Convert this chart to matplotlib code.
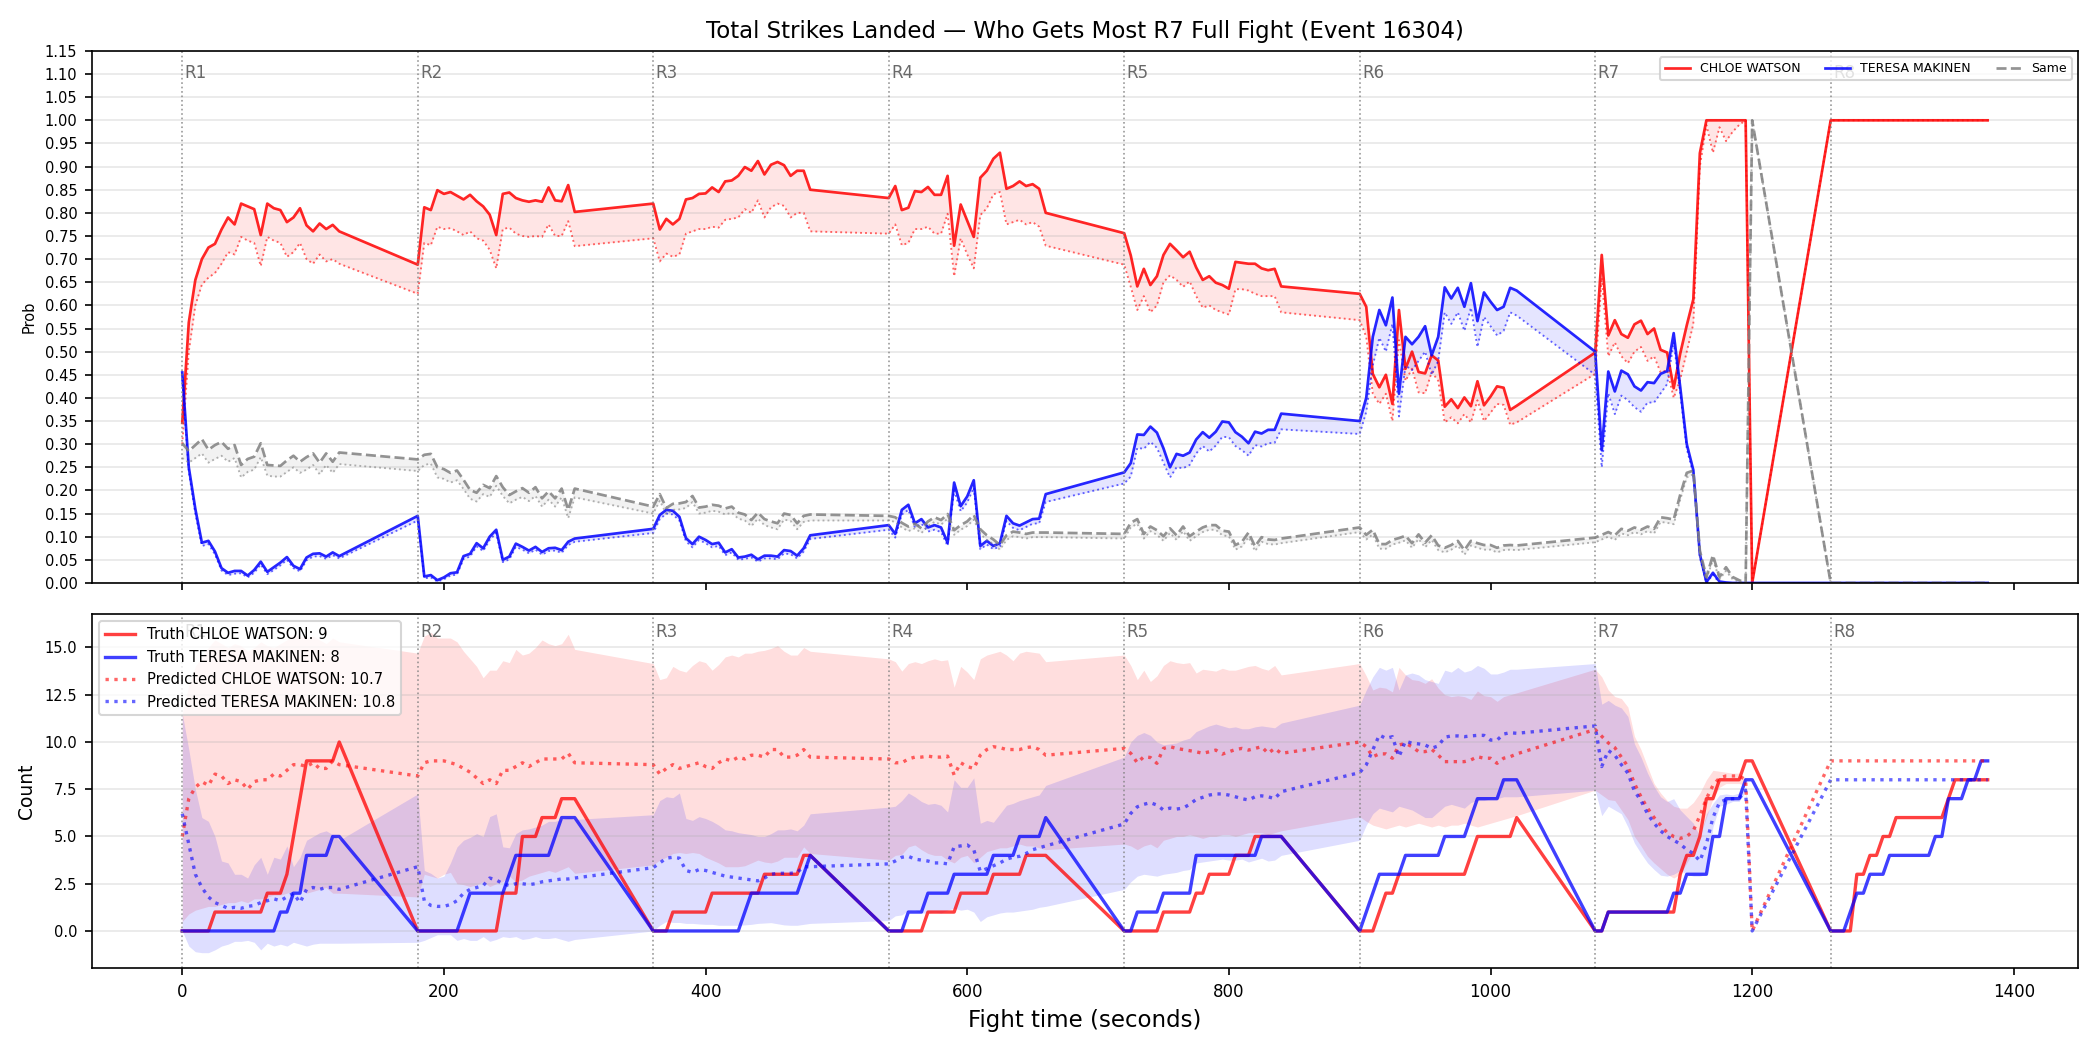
import numpy as np
import matplotlib
matplotlib.use('Agg')
from matplotlib import pyplot as plt
import matplotlib.transforms as mtransforms

# Round starts (seconds) and the sampling offsets inside each round
ROUND_STARTS = [0, 180, 360, 540, 720, 900, 1080, 1260]
ROUND_NAMES = ['R1', 'R2', 'R3', 'R4', 'R5', 'R6', 'R7', 'R8']
SAMPLE_OFFSETS = [0, 5, 10, 15, 20, 25, 30, 35, 40, 45, 50, 55, 60,
                  65, 70, 75, 80, 85, 90, 95, 100, 105, 110, 115, 120]

NAME_A = 'CHLOE WATSON'
NAME_B = 'TERESA MAKINEN'
TRUTH_A = 9
TRUTH_B = 8
PRED_A = 10.7
PRED_B = 10.8

# ---- Top panel: probabilities (solid) and lower dotted estimate ----
chloe_prob = [
    0.346, 0.563, 0.655, 0.70, 0.725, 0.733, 0.764, 0.79, 0.775, 0.82, 0.814, 0.808, 0.752, 0.82, 0.81, 0.806, 0.78, 0.79, 0.81, 0.773, 0.76, 0.777, 0.765, 0.774, 0.76,
    0.688, 0.812, 0.806, 0.849, 0.841, 0.845, 0.837, 0.829, 0.839, 0.825, 0.814, 0.796, 0.752, 0.841, 0.844, 0.832, 0.827, 0.824, 0.827, 0.824, 0.855, 0.827, 0.825, 0.86, 0.802,
    0.82, 0.764, 0.787, 0.775, 0.787, 0.829, 0.832, 0.841, 0.842, 0.855, 0.845, 0.868, 0.87, 0.88, 0.899, 0.891, 0.912, 0.883, 0.904, 0.91, 0.903, 0.88, 0.891, 0.891, 0.85,
    0.832, 0.858, 0.806, 0.811, 0.847, 0.845, 0.856, 0.839, 0.839, 0.88, 0.729, 0.818, 0.783, 0.748, 0.876, 0.891, 0.917, 0.93, 0.852, 0.858, 0.868, 0.858, 0.862, 0.852, 0.80,
    0.756, 0.708, 0.641, 0.679, 0.644, 0.663, 0.709, 0.733, 0.719, 0.704, 0.716, 0.682, 0.655, 0.663, 0.649, 0.644, 0.636, 0.694, 0.692, 0.69, 0.69, 0.68, 0.676, 0.679, 0.641,
    0.625, 0.597, 0.452, 0.423, 0.45, 0.387, 0.59, 0.463, 0.50, 0.456, 0.453, 0.492, 0.481, 0.381, 0.397, 0.378, 0.401, 0.382, 0.436, 0.384, 0.403, 0.425, 0.422, 0.374, 0.383,
    0.498, 0.709, 0.535, 0.568, 0.538, 0.53, 0.559, 0.567, 0.538, 0.55, 0.504, 0.498, 0.421, 0.496, 0.557, 0.613, 0.929, 1.0, 1.0, 1.0, 1.0, 1.0, 1.0, 1.0, 0.0,
    1.0, 1.0, 1.0, 1.0, 1.0, 1.0, 1.0, 1.0, 1.0, 1.0, 1.0, 1.0, 1.0, 1.0, 1.0, 1.0, 1.0, 1.0, 1.0, 1.0, 1.0, 1.0, 1.0, 1.0, 1.0,
]
chloe_prob_lo = [
    0.30, 0.50, 0.60, 0.645, 0.66, 0.67, 0.69, 0.715, 0.71, 0.748, 0.74, 0.735, 0.685, 0.748, 0.74, 0.735, 0.705, 0.715, 0.735, 0.70, 0.69, 0.71, 0.695, 0.70, 0.69,
    0.625, 0.735, 0.73, 0.77, 0.765, 0.767, 0.76, 0.752, 0.76, 0.745, 0.74, 0.72, 0.68, 0.765, 0.768, 0.755, 0.75, 0.748, 0.75, 0.748, 0.775, 0.75, 0.75, 0.782, 0.728,
    0.745, 0.695, 0.712, 0.705, 0.71, 0.755, 0.76, 0.765, 0.765, 0.77, 0.768, 0.785, 0.787, 0.79, 0.808, 0.80, 0.827, 0.79, 0.812, 0.82, 0.815, 0.79, 0.80, 0.80, 0.76,
    0.755, 0.775, 0.73, 0.735, 0.765, 0.765, 0.77, 0.755, 0.755, 0.798, 0.663, 0.745, 0.71, 0.68, 0.795, 0.81, 0.84, 0.845, 0.775, 0.78, 0.785, 0.775, 0.78, 0.77, 0.729,
    0.688, 0.64, 0.59, 0.62, 0.585, 0.60, 0.65, 0.665, 0.655, 0.64, 0.652, 0.62, 0.595, 0.60, 0.59, 0.585, 0.58, 0.635, 0.635, 0.632, 0.625, 0.62, 0.62, 0.62, 0.585,
    0.568, 0.532, 0.409, 0.387, 0.409, 0.35, 0.525, 0.437, 0.463, 0.412, 0.41, 0.456, 0.437, 0.347, 0.358, 0.345, 0.365, 0.347, 0.395, 0.35, 0.368, 0.387, 0.385, 0.342, 0.347,
    0.452, 0.66, 0.49, 0.52, 0.49, 0.475, 0.50, 0.51, 0.48, 0.49, 0.455, 0.46, 0.40, 0.44, 0.50, 0.56, 0.90, 0.99, 0.93, 0.985, 0.955, 0.975, 0.99, 1.0, 0.0,
    1.0, 1.0, 1.0, 1.0, 1.0, 1.0, 1.0, 1.0, 1.0, 1.0, 1.0, 1.0, 1.0, 1.0, 1.0, 1.0, 1.0, 1.0, 1.0, 1.0, 1.0, 1.0, 1.0, 1.0, 1.0,
]
teresa_prob = [
    0.455, 0.25, 0.16, 0.087, 0.091, 0.068, 0.032, 0.022, 0.026, 0.026, 0.016, 0.028, 0.046, 0.024, 0.034, 0.044, 0.056, 0.037, 0.030, 0.055, 0.063, 0.064, 0.057, 0.066, 0.058,
    0.145, 0.014, 0.017, 0.006, 0.012, 0.021, 0.023, 0.058, 0.063, 0.086, 0.075, 0.10, 0.115, 0.05, 0.057, 0.085, 0.078, 0.07, 0.078, 0.067, 0.075, 0.076, 0.071, 0.089, 0.096,
    0.117, 0.147, 0.158, 0.156, 0.143, 0.097, 0.084, 0.10, 0.093, 0.084, 0.087, 0.066, 0.073, 0.055, 0.057, 0.061, 0.051, 0.059, 0.059, 0.057, 0.071, 0.069, 0.059, 0.075, 0.103,
    0.125, 0.106, 0.158, 0.169, 0.129, 0.138, 0.12, 0.125, 0.12, 0.087, 0.217, 0.166, 0.187, 0.222, 0.08, 0.091, 0.08, 0.086, 0.145, 0.129, 0.124, 0.131, 0.138, 0.139, 0.192,
    0.239, 0.259, 0.321, 0.32, 0.338, 0.325, 0.291, 0.25, 0.279, 0.275, 0.282, 0.31, 0.326, 0.314, 0.327, 0.349, 0.347, 0.326, 0.316, 0.302, 0.327, 0.323, 0.331, 0.331, 0.366,
    0.35, 0.40, 0.532, 0.59, 0.557, 0.617, 0.409, 0.532, 0.516, 0.532, 0.555, 0.492, 0.532, 0.639, 0.615, 0.638, 0.597, 0.648, 0.566, 0.628, 0.608, 0.59, 0.597, 0.638, 0.632,
    0.50, 0.287, 0.457, 0.414, 0.459, 0.451, 0.425, 0.416, 0.434, 0.432, 0.452, 0.458, 0.54, 0.423, 0.30, 0.244, 0.062, 0.002, 0.022, 0.003, 0.001, 0.0, 0.0, 0.0, 0.0,
    0.0, 0.0, 0.0, 0.0, 0.0, 0.0, 0.0, 0.0, 0.0, 0.0, 0.0, 0.0, 0.0, 0.0, 0.0, 0.0, 0.0, 0.0, 0.0, 0.0, 0.0, 0.0, 0.0, 0.0, 0.0,
]
teresa_prob_lo = [
    0.44, 0.24, 0.15, 0.08, 0.084, 0.062, 0.027, 0.017, 0.02, 0.021, 0.012, 0.022, 0.04, 0.019, 0.028, 0.038, 0.05, 0.032, 0.025, 0.049, 0.057, 0.058, 0.052, 0.06, 0.053,
    0.135, 0.01, 0.012, 0.003, 0.008, 0.016, 0.018, 0.052, 0.057, 0.079, 0.069, 0.093, 0.108, 0.045, 0.051, 0.078, 0.072, 0.064, 0.072, 0.061, 0.069, 0.07, 0.065, 0.082, 0.089,
    0.108, 0.138, 0.15, 0.148, 0.135, 0.09, 0.077, 0.093, 0.086, 0.077, 0.08, 0.06, 0.066, 0.05, 0.052, 0.055, 0.046, 0.053, 0.053, 0.051, 0.064, 0.062, 0.053, 0.068, 0.095,
    0.115, 0.098, 0.148, 0.158, 0.12, 0.128, 0.111, 0.115, 0.11, 0.08, 0.2, 0.155, 0.174, 0.206, 0.073, 0.083, 0.073, 0.079, 0.134, 0.119, 0.114, 0.121, 0.128, 0.129, 0.175,
    0.215, 0.23, 0.292, 0.29, 0.305, 0.292, 0.26, 0.228, 0.25, 0.248, 0.255, 0.28, 0.296, 0.284, 0.297, 0.316, 0.315, 0.296, 0.287, 0.275, 0.298, 0.295, 0.302, 0.303, 0.332,
    0.322, 0.37, 0.47, 0.53, 0.50, 0.56, 0.36, 0.47, 0.46, 0.48, 0.50, 0.45, 0.48, 0.585, 0.56, 0.585, 0.545, 0.595, 0.51, 0.575, 0.555, 0.535, 0.545, 0.585, 0.578,
    0.45, 0.25, 0.41, 0.365, 0.405, 0.395, 0.38, 0.37, 0.39, 0.39, 0.41, 0.43, 0.52, 0.41, 0.29, 0.235, 0.055, 0.0, 0.018, 0.0, 0.0, 0.0, 0.0, 0.0, 0.0,
    0.0, 0.0, 0.0, 0.0, 0.0, 0.0, 0.0, 0.0, 0.0, 0.0, 0.0, 0.0, 0.0, 0.0, 0.0, 0.0, 0.0, 0.0, 0.0, 0.0, 0.0, 0.0, 0.0, 0.0, 0.0,
]
same_prob = [
    0.302, 0.285, 0.298, 0.311, 0.288, 0.298, 0.305, 0.29, 0.298, 0.255, 0.268, 0.273, 0.302, 0.255, 0.254, 0.253, 0.265, 0.275, 0.262, 0.272, 0.28, 0.26, 0.28, 0.262, 0.282,
    0.267, 0.277, 0.279, 0.25, 0.246, 0.238, 0.243, 0.223, 0.201, 0.195, 0.212, 0.205, 0.231, 0.207, 0.19, 0.198, 0.205, 0.195, 0.207, 0.183, 0.198, 0.183, 0.204, 0.158, 0.204,
    0.165, 0.192, 0.162, 0.171, 0.172, 0.175, 0.188, 0.163, 0.165, 0.169, 0.167, 0.161, 0.165, 0.152, 0.148, 0.136, 0.152, 0.138, 0.133, 0.129, 0.150, 0.147, 0.129, 0.145, 0.148,
    0.145, 0.142, 0.13, 0.122, 0.128, 0.118, 0.133, 0.142, 0.136, 0.149, 0.114, 0.125, 0.133, 0.147, 0.116, 0.103, 0.094, 0.082, 0.103, 0.111, 0.109, 0.106, 0.109, 0.109, 0.109,
    0.106, 0.13, 0.138, 0.106, 0.122, 0.114, 0.101, 0.118, 0.103, 0.122, 0.101, 0.111, 0.12, 0.125, 0.125, 0.113, 0.111, 0.082, 0.089, 0.109, 0.079, 0.099, 0.094, 0.093, 0.096,
    0.12, 0.104, 0.115, 0.084, 0.084, 0.093, 0.097, 0.102, 0.086, 0.105, 0.087, 0.103, 0.081, 0.076, 0.082, 0.091, 0.071, 0.091, 0.086, 0.082, 0.082, 0.076, 0.081, 0.082, 0.081,
    0.098, 0.104, 0.11, 0.103, 0.117, 0.113, 0.12, 0.115, 0.122, 0.117, 0.142, 0.14, 0.137, 0.191, 0.238, 0.243, 0.07, 0.013, 0.06, 0.013, 0.034, 0.013, 0.006, 0.0, 1.0,
    0.0, 0.0, 0.0, 0.0, 0.0, 0.0, 0.0, 0.0, 0.0, 0.0, 0.0, 0.0, 0.0, 0.0, 0.0, 0.0, 0.0, 0.0, 0.0, 0.0, 0.0, 0.0, 0.0, 0.0, 0.0,
]
same_prob_lo = [
    0.27, 0.26, 0.27, 0.28, 0.26, 0.268, 0.275, 0.262, 0.27, 0.228, 0.24, 0.245, 0.272, 0.232, 0.23, 0.23, 0.24, 0.25, 0.238, 0.245, 0.255, 0.235, 0.255, 0.238, 0.257,
    0.242, 0.255, 0.258, 0.228, 0.225, 0.217, 0.222, 0.203, 0.182, 0.176, 0.192, 0.186, 0.21, 0.188, 0.172, 0.18, 0.186, 0.177, 0.188, 0.165, 0.18, 0.165, 0.185, 0.14, 0.185,
    0.15, 0.178, 0.149, 0.158, 0.159, 0.162, 0.175, 0.15, 0.152, 0.156, 0.154, 0.148, 0.152, 0.139, 0.135, 0.123, 0.139, 0.125, 0.12, 0.116, 0.137, 0.134, 0.116, 0.132, 0.135,
    0.135, 0.132, 0.12, 0.112, 0.118, 0.108, 0.123, 0.132, 0.126, 0.139, 0.104, 0.115, 0.123, 0.137, 0.106, 0.093, 0.084, 0.072, 0.093, 0.101, 0.099, 0.096, 0.099, 0.099, 0.099,
    0.096, 0.12, 0.128, 0.096, 0.112, 0.104, 0.091, 0.108, 0.093, 0.112, 0.091, 0.101, 0.11, 0.115, 0.115, 0.103, 0.101, 0.072, 0.079, 0.099, 0.069, 0.089, 0.084, 0.083, 0.086,
    0.11, 0.094, 0.105, 0.074, 0.074, 0.083, 0.087, 0.092, 0.076, 0.095, 0.077, 0.093, 0.071, 0.066, 0.072, 0.081, 0.061, 0.081, 0.076, 0.072, 0.072, 0.066, 0.071, 0.072, 0.071,
    0.088, 0.094, 0.1, 0.093, 0.107, 0.103, 0.11, 0.105, 0.112, 0.107, 0.132, 0.13, 0.127, 0.18, 0.228, 0.235, 0.06, 0.008, 0.05, 0.008, 0.026, 0.008, 0.003, 0.0, 1.0,
    0.0, 0.0, 0.0, 0.0, 0.0, 0.0, 0.0, 0.0, 0.0, 0.0, 0.0, 0.0, 0.0, 0.0, 0.0, 0.0, 0.0, 0.0, 0.0, 0.0, 0.0, 0.0, 0.0, 0.0, 0.0,
]

# ---- Bottom panel: strikes per round (truth), predicted mean and band ----
chloe_truth = [
    0, 0, 0, 0, 0, 1, 1, 1, 1, 1, 1, 1, 1, 2, 2, 2, 3, 5, 7, 9, 9, 9, 9, 9, 10,
    0, 0, 0, 0, 0, 0, 0, 0, 0, 0, 0, 0, 0, 2, 2, 2, 5, 5, 5, 6, 6, 6, 7, 7, 7,
    0, 0, 0, 1, 1, 1, 1, 1, 1, 2, 2, 2, 2, 2, 2, 2, 2, 3, 3, 3, 3, 3, 3, 4, 4,
    0, 0, 0, 0, 0, 0, 1, 1, 1, 1, 1, 2, 2, 2, 2, 2, 3, 3, 3, 3, 3, 4, 4, 4, 4,
    0, 0, 0, 0, 0, 0, 1, 1, 1, 1, 1, 2, 2, 3, 3, 3, 3, 4, 4, 4, 5, 5, 5, 5, 5,
    0, 0, 0, 1, 2, 2, 3, 3, 3, 3, 3, 3, 3, 3, 3, 3, 3, 4, 5, 5, 5, 5, 5, 5, 6,
    0, 0, 1, 1, 1, 1, 1, 1, 1, 1, 1, 1, 1, 3, 4, 4, 5, 7, 7, 8, 8, 8, 8, 9, 9,
    0, 0, 0, 0, 3, 3, 4, 4, 5, 5, 6, 6, 6, 6, 6, 6, 6, 6, 7, 8, 8, 8, 8, 8, 8,
]
teresa_truth = [
    0, 0, 0, 0, 0, 0, 0, 0, 0, 0, 0, 0, 0, 0, 0, 1, 1, 2, 2, 4, 4, 4, 4, 5, 5,
    0, 0, 0, 0, 0, 0, 0, 1, 2, 2, 2, 2, 2, 2, 3, 4, 4, 4, 4, 4, 4, 5, 6, 6, 6,
    0, 0, 0, 0, 0, 0, 0, 0, 0, 0, 0, 0, 0, 0, 1, 2, 2, 2, 2, 2, 2, 2, 2, 3, 4,
    0, 0, 0, 1, 1, 1, 2, 2, 2, 2, 3, 3, 3, 3, 3, 3, 4, 4, 4, 4, 5, 5, 5, 5, 6,
    0, 0, 1, 1, 1, 1, 2, 2, 2, 2, 2, 4, 4, 4, 4, 4, 4, 4, 4, 4, 4, 5, 5, 5, 5,
    0, 1, 2, 3, 3, 3, 3, 4, 4, 4, 4, 4, 4, 5, 5, 5, 5, 6, 7, 7, 7, 7, 8, 8, 8,
    0, 0, 1, 1, 1, 1, 1, 1, 1, 1, 1, 1, 2, 2, 3, 3, 3, 3, 5, 5, 7, 7, 7, 8, 8,
    0, 0, 0, 1, 2, 2, 3, 3, 3, 4, 4, 4, 4, 4, 4, 4, 5, 5, 7, 7, 7, 8, 8, 9, 9,
]
chloe_pred = [
    5.0, 7.0, 7.6, 7.9, 7.7, 8.3, 8.2, 7.8, 8.0, 7.9, 7.5, 7.9, 8.0, 8.0, 8.3, 8.2, 8.5, 8.8, 8.8, 8.7, 8.9, 8.6, 8.6, 9.0, 8.8,
    8.2, 8.9, 9.0, 9.0, 9.0, 8.9, 8.8, 8.6, 8.4, 8.1, 7.8, 8.0, 7.8, 8.5, 8.5, 8.7, 8.9, 8.7, 8.9, 9.1, 9.1, 9.1, 9.1, 9.4, 8.9,
    8.8, 8.3, 8.6, 8.8, 8.6, 8.7, 8.8, 8.9, 8.7, 8.6, 8.9, 9.1, 9.0, 9.2, 9.1, 9.3, 9.3, 9.2, 9.6, 9.6, 9.2, 9.2, 9.3, 9.6, 9.2,
    9.1, 8.9, 8.9, 9.1, 9.2, 9.2, 9.25, 9.2, 9.2, 9.25, 8.25, 8.9, 8.7, 8.6, 9.3, 9.6, 9.75, 9.7, 9.6, 9.6, 9.6, 9.7, 9.75, 9.6, 9.3,
    9.66, 9.4, 8.9, 9.22, 9.18, 8.87, 9.66, 9.75, 9.66, 9.6, 9.54, 9.48, 9.4, 9.48, 9.57, 9.36, 9.48, 9.6, 9.66, 9.57, 9.66, 9.75, 9.4, 9.66, 9.4,
    10.0, 9.75, 9.22, 9.37, 9.37, 9.14, 9.84, 9.93, 9.75, 9.49, 9.49, 9.61, 9.31, 8.96, 8.96, 8.96, 8.96, 9.05, 9.22, 9.14, 9.14, 8.87, 9.14, 9.22, 9.37,
    10.66, 10.3, 9.95, 9.7, 9.2, 8.7, 7.8, 7.1, 6.5, 6.0, 5.6, 5.2, 5.0, 4.9, 5.0, 5.3, 6.1, 7.0, 7.7, 8.1, 8.2, 8.2, 8.2, 8.0, 0.0,
    9.0, 9.0, 9.0, 9.0, 9.0, 9.0, 9.0, 9.0, 9.0, 9.0, 9.0, 9.0, 9.0, 9.0, 9.0, 9.0, 9.0, 9.0, 9.0, 9.0, 9.0, 9.0, 9.0, 9.0, 9.0,
]
teresa_pred = [
    6.2, 4.6, 3.0, 2.3, 1.8, 1.5, 1.35, 1.2, 1.25, 1.2, 1.3, 1.35, 1.5, 1.6, 1.7, 1.6, 1.8, 2.0, 1.5, 2.2, 2.3, 2.2, 2.3, 2.3, 2.2,
    3.4, 1.6, 1.35, 1.3, 1.3, 1.4, 1.6, 2.0, 2.2, 2.3, 2.4, 2.8, 2.7, 2.5, 2.4, 2.5, 2.5, 2.45, 2.5, 2.6, 2.65, 2.7, 2.75, 2.75, 2.8,
    3.35, 3.6, 3.85, 3.9, 3.85, 3.2, 3.1, 3.25, 3.2, 3.1, 3.0, 2.9, 2.85, 2.8, 2.75, 2.7, 2.65, 2.8, 3.0, 3.05, 3.05, 3.05, 3.1, 3.4, 3.4,
    3.55, 3.7, 3.9, 3.95, 3.8, 3.75, 3.7, 3.6, 3.6, 3.55, 4.45, 4.5, 4.55, 4.3, 3.15, 3.3, 3.45, 3.6, 3.8, 3.9, 3.95, 4.1, 4.3, 4.4, 4.5,
    5.66, 6.22, 6.57, 6.7, 6.79, 6.66, 6.4, 6.5, 6.45, 6.5, 6.7, 6.96, 7.07, 7.19, 7.25, 7.25, 7.19, 7.1, 7.0, 6.93, 7.1, 7.15, 7.1, 7.0, 7.37,
    8.38, 8.79, 9.58, 10.37, 10.19, 10.28, 9.22, 10.05, 9.93, 9.9, 9.84, 9.67, 9.79, 10.25, 10.32, 10.32, 10.28, 10.32, 10.35, 10.35, 10.1, 10.1, 10.42, 10.49, 10.46,
    10.85, 8.7, 9.55, 9.3, 8.8, 8.35, 7.4, 6.9, 6.2, 5.7, 5.3, 5.0, 4.8, 4.6, 4.3, 4.1, 3.7, 4.6, 6.0, 6.8, 6.95, 7.0, 7.0, 7.45, 0.0,
    8.0, 8.0, 8.0, 8.0, 8.0, 8.0, 8.0, 8.0, 8.0, 8.0, 8.0, 8.0, 8.0, 8.0, 8.0, 8.0, 8.0, 8.0, 8.0, 8.0, 8.0, 8.0, 8.0, 8.0, 8.0,
]
chloe_hi = [
    11.5, 13.0, 14.0, 14.5, 15.0, 15.4, 15.2, 15.0, 15.2, 15.1, 14.8, 15.0, 15.3, 15.1, 15.0, 15.2, 15.4, 15.7, 15.6, 15.5, 15.6, 15.4, 15.2, 15.5, 15.3,
    14.7, 15.6, 15.8, 15.5, 15.5, 15.5, 15.3, 14.8, 14.4, 14.0, 13.4, 13.8, 13.8, 14.3, 14.2, 14.9, 14.6, 14.7, 15.0, 15.4, 15.2, 15.1, 15.2, 15.7, 14.9,
    14.15, 13.3, 13.4, 14.0, 13.8, 13.7, 14.05, 14.3, 14.2, 13.8, 14.1, 14.5, 14.6, 14.5, 14.7, 14.7, 14.8, 14.85, 14.95, 15.1, 14.8, 14.6, 14.6, 15.0, 14.8,
    14.4, 14.25, 13.75, 14.15, 14.25, 14.15, 14.3, 14.4, 14.3, 14.35, 12.9, 14.0, 13.7, 13.3, 14.4, 14.6, 14.7, 14.8, 14.6, 14.3, 14.7, 14.8, 14.75, 14.7, 14.25,
    14.6, 14.05, 13.3, 13.8, 13.2, 13.5, 14.05, 14.3, 14.2, 14.15, 14.2, 13.65, 13.85, 13.8, 13.75, 13.9, 13.8, 13.8, 13.9, 14.0, 14.05, 13.9, 13.8, 14.05, 13.55,
    14.15, 13.5, 12.75, 12.9, 12.85, 12.65, 13.95, 13.55, 13.3, 13.25, 13.1, 13.35, 12.85, 12.5, 12.4, 12.45, 12.4, 12.25, 12.7, 12.45, 12.4, 12.15, 12.4, 12.5, 12.6,
    13.85, 13.45, 12.75, 12.4, 12.3, 11.85, 10.3, 9.6, 8.7, 7.8, 7.3, 6.9, 6.6, 6.5, 6.5, 6.8, 7.3, 8.0, 8.5, 8.45, 8.4, 8.35, 8.35, 8.1, 0.0,
    9.0, 9.0, 9.0, 9.0, 9.0, 9.0, 9.0, 9.0, 9.0, 9.0, 9.0, 9.0, 9.0, 9.0, 9.0, 9.0, 9.0, 9.0, 9.0, 9.0, 9.0, 9.0, 9.0, 9.0, 9.0,
]
chloe_lo = [
    0.5, 0.9, 1.1, 1.2, 1.3, 1.3, 1.4, 1.5, 1.5, 1.6, 1.5, 1.7, 1.7, 1.8, 1.9, 1.9, 2.0, 2.1, 2.2, 2.0, 2.1, 2.2, 2.3, 2.0, 2.0,
    1.8, 3.0, 2.9, 2.8, 3.0, 3.1, 2.5, 2.45, 2.35, 2.45, 2.6, 2.35, 2.5, 2.6, 2.9, 2.6, 2.7, 2.9, 3.0, 3.1, 3.2, 3.1, 3.25, 3.4, 3.05,
    3.5, 3.75, 3.9, 4.1, 4.15, 4.1, 4.15, 4.1, 3.9, 3.75, 3.6, 3.4, 3.4, 3.4, 3.45, 3.6, 3.75, 3.65, 3.6, 3.7, 3.9, 3.9, 3.9, 4.45, 4.1,
    3.75, 4.0, 4.05, 4.45, 4.55, 4.3, 4.1, 4.0, 4.0, 3.75, 3.6, 3.9, 4.0, 3.6, 3.9, 4.2, 4.3, 4.4, 4.4, 4.5, 4.6, 4.5, 4.5, 4.4, 4.3,
    4.6, 4.5, 4.3, 4.5, 4.6, 4.4, 4.8, 4.9, 5.0, 5.0, 5.1, 5.0, 4.9, 5.0, 5.0, 5.1, 5.1, 5.0, 5.1, 5.2, 5.2, 5.2, 5.1, 5.2, 5.3,
    6.05, 5.8, 5.6, 5.5, 5.4, 5.5, 5.6, 5.5, 5.6, 5.7, 5.6, 5.5, 5.6, 5.5, 5.6, 5.6, 5.7, 5.6, 5.5, 5.6, 5.7, 5.8, 5.9, 6.0, 6.1,
    7.45, 7.2, 6.95, 6.9, 6.4, 5.9, 5.0, 4.5, 3.95, 3.6, 3.3, 3.0, 2.8, 3.0, 3.6, 4.2, 5.0, 6.0, 7.0, 7.6, 7.8, 7.8, 7.8, 7.7, 0.0,
    9.0, 9.0, 9.0, 9.0, 9.0, 9.0, 9.0, 9.0, 9.0, 9.0, 9.0, 9.0, 9.0, 9.0, 9.0, 9.0, 9.0, 9.0, 9.0, 9.0, 9.0, 9.0, 9.0, 9.0, 9.0,
]
teresa_hi = [
    11.5, 9.6, 7.5, 6.0, 5.8, 5.0, 3.7, 3.6, 3.0, 3.0, 2.8, 3.5, 3.9, 3.0, 3.9, 3.8, 4.5, 3.4, 3.9, 4.8, 5.0, 5.2, 5.3, 5.1, 4.8,
    7.25, 3.2, 3.05, 2.8, 2.9, 3.6, 4.45, 4.8, 4.95, 5.15, 5.0, 6.05, 6.2, 4.45, 4.4, 5.15, 5.35, 5.4, 5.5, 5.6, 5.8, 5.8, 5.9, 6.0, 5.9,
    6.15, 6.9, 7.1, 7.05, 7.3, 5.95, 5.85, 6.05, 5.95, 5.8, 5.6, 5.35, 5.3, 5.2, 5.15, 5.1, 5.0, 5.0, 5.15, 5.35, 5.35, 5.4, 5.3, 5.6, 6.2,
    6.55, 6.6, 6.9, 7.3, 7.1, 6.85, 6.7, 6.75, 6.65, 6.3, 8.0, 7.6, 7.6, 8.1, 5.7, 5.85, 5.75, 6.2, 6.65, 6.75, 6.9, 7.0, 7.1, 7.2, 7.7,
    9.2, 10.0, 10.35, 10.5, 10.35, 10.0, 9.85, 9.9, 9.95, 10.1, 10.2, 10.55, 10.7, 10.85, 10.95, 10.85, 10.75, 10.8, 10.7, 10.7, 10.8, 10.85, 10.8, 10.75, 11.0,
    11.95, 12.75, 13.45, 13.95, 13.8, 13.95, 12.75, 13.55, 13.65, 13.55, 13.3, 13.2, 13.1, 13.8, 13.7, 13.95, 13.7, 13.8, 14.05, 13.9, 13.6, 13.6, 13.7, 13.85, 13.85,
    14.15, 12.0, 12.2, 11.95, 11.8, 11.35, 9.9, 9.2, 8.35, 7.65, 7.1, 6.85, 7.0, 6.4, 6.05, 5.7, 5.0, 6.2, 6.75, 7.2, 7.25, 7.2, 7.3, 7.55, 0.0,
    8.0, 8.0, 8.0, 8.0, 8.0, 8.0, 8.0, 8.0, 8.0, 8.0, 8.0, 8.0, 8.0, 8.0, 8.0, 8.0, 8.0, 8.0, 8.0, 8.0, 8.0, 8.0, 8.0, 8.0, 8.0,
]
teresa_lo = [
    0.0, -0.8, -1.1, -1.15, -1.15, -1.0, -0.8, -0.7, -0.55, -0.55, -0.5, -0.6, -1.0, -0.65, -0.8, -0.7, -0.8, -0.6, -0.7, -0.8, -0.7, -0.65, -0.65, -0.65, -0.65,
    -0.6, -0.5, -0.35, -0.2, -0.2, -0.2, -0.5, -0.4, -0.5, -0.5, -0.3, -0.55, -0.45, -0.3, -0.35, -0.3, -0.45, -0.4, -0.3, -0.4, -0.4, -0.35, -0.45, -0.55, -0.45,
    0.0, 0.3, 0.5, 0.45, 0.45, 0.4, 0.4, 0.37, 0.35, 0.35, 0.3, 0.3, 0.3, 0.3, 0.32, 0.35, 0.4, 0.42, 0.44, 0.38, 0.32, 0.3, 0.3, 0.35, 0.4,
    0.55, 0.8, 0.85, 1.08, 1.1, 0.95, 0.95, 1.0, 0.95, 1.1, 1.2, 1.1, 1.15, 1.0, 0.5, 0.75, 0.85, 0.95, 1.0, 1.0, 1.05, 1.1, 1.15, 1.25, 1.3,
    2.2, 2.6, 2.9, 3.0, 2.95, 2.9, 3.0, 3.05, 3.1, 3.2, 3.25, 3.6, 3.65, 3.7, 3.75, 3.8, 3.75, 3.75, 3.8, 3.65, 3.75, 3.85, 3.7, 3.75, 4.0,
    4.8, 5.6, 6.2, 6.5, 6.4, 6.3, 6.6, 6.5, 6.4, 6.2, 6.0, 6.0, 6.3, 6.6, 6.7, 6.6, 6.5, 6.8, 6.9, 6.9, 7.0, 7.0, 7.1, 7.1, 7.1,
    7.45, 6.1, 6.6, 6.4, 6.2, 5.5, 4.65, 4.1, 3.6, 3.25, 2.95, 2.9, 3.0, 3.2, 3.0, 2.9, 2.9, 3.0, 5.5, 6.6, 6.7, 6.85, 6.85, 7.4, 0.0,
    8.0, 8.0, 8.0, 8.0, 8.0, 8.0, 8.0, 8.0, 8.0, 8.0, 8.0, 8.0, 8.0, 8.0, 8.0, 8.0, 8.0, 8.0, 8.0, 8.0, 8.0, 8.0, 8.0, 8.0, 8.0,
]

t = np.array([s + o for s in ROUND_STARTS for o in SAMPLE_OFFSETS])

fig = plt.figure(figsize=(14, 7), dpi=150)
ax1 = fig.add_axes([0.0438, 0.4448, 0.9457, 0.5067])
ax2 = fig.add_axes([0.0438, 0.0781, 0.9457, 0.3371], sharex=ax1)

# Top panel
series = [
    (chloe_prob, chloe_prob_lo, 'red', '-', NAME_A),
    (teresa_prob, teresa_prob_lo, 'blue', '-', NAME_B),
    (same_prob, same_prob_lo, 'gray', '--', 'Same'),
]
for hi, lo, col, ls, lab in series:
    ax1.fill_between(t, lo, hi, color=col, alpha=0.1, lw=0)
    ax1.plot(t, lo, color=col, ls=':', lw=0.9, alpha=0.6)
    ax1.plot(t, hi, color=col, ls=ls, lw=1.3, alpha=0.85, label=lab)

ax1.set_ylim(0, 1.15)
ax1.set_yticks(np.arange(0, 1.151, 0.05))
ax1.set_ylabel('Prob', fontsize=7)
ax1.tick_params(axis='both', labelsize=7)
ax1.tick_params(axis='x', labelbottom=False)
ax1.grid(axis='y', alpha=0.3)
ax1.set_title('Total Strikes Landed \u2014 Who Gets Most R7 Full Fight (Event 16304)', fontsize=11)

# Bottom panel
ax2.fill_between(t, chloe_lo, chloe_hi, color='red', alpha=0.13, lw=0)
ax2.fill_between(t, teresa_lo, teresa_hi, color='blue', alpha=0.13, lw=0)
ax2.plot(t, chloe_truth, color='red', lw=1.6, alpha=0.75, label='Truth %s: %d' % (NAME_A, TRUTH_A))
ax2.plot(t, teresa_truth, color='blue', lw=1.6, alpha=0.75, label='Truth %s: %d' % (NAME_B, TRUTH_B))
ax2.plot(t, chloe_pred, color='red', ls=':', lw=1.6, alpha=0.6, label='Predicted %s: %.1f' % (NAME_A, PRED_A))
ax2.plot(t, teresa_pred, color='blue', ls=':', lw=1.6, alpha=0.6, label='Predicted %s: %.1f' % (NAME_B, PRED_B))

ax2.set_ylim(-1.96, 16.77)
ax2.set_yticks([0.0, 2.5, 5.0, 7.5, 10.0, 12.5, 15.0])
ax2.set_ylabel('Count', fontsize=9)
ax2.set_xlabel('Fight time (seconds)', fontsize=11)
ax2.tick_params(axis='y', labelsize=7)
ax2.tick_params(axis='x', labelsize=8)
ax2.grid(axis='y', alpha=0.3)
ax2.set_xlim(-69, 1449)

# Round markers
for ax in (ax1, ax2):
    trans = mtransforms.blended_transform_factory(ax.transData, ax.transAxes)
    for s, name in zip(ROUND_STARTS, ROUND_NAMES):
        ax.axvline(s, color='gray', ls=':', lw=0.8, alpha=0.8)
        ax.text(s + 2, 0.975, name, transform=trans, fontsize=8, color='dimgray',
                va='top', ha='left')

ax1.legend(loc='upper right', ncol=3, fontsize=6)
ax2.legend(loc='upper left', fontsize=7.1)

fig.savefig('out.png', dpi=150)
